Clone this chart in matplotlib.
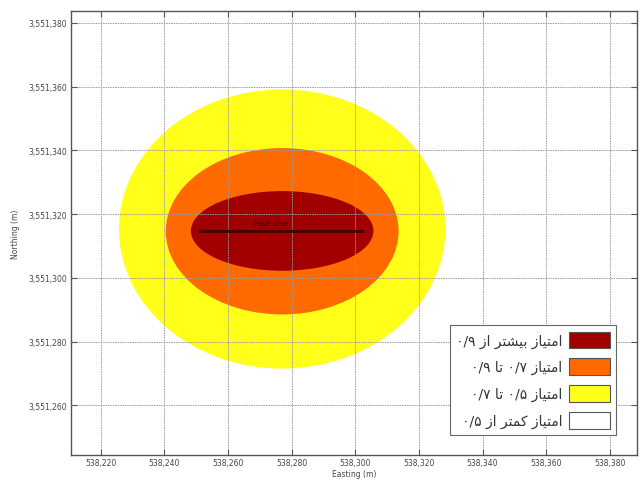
import matplotlib
matplotlib.use("Agg")
import matplotlib.pyplot as plt
from matplotlib.patches import Ellipse, Patch
from matplotlib.ticker import FuncFormatter

# zones drawn from the outside in (center, half axes in metres)
zone_colors = ["#ffff1a", "#ff6a00", "#a00000"]
zone_cx = [538277, 538277, 538277]
zone_cy = [3551315.3, 3551314.6, 3551314.7]
zone_rx = [51.3, 36.6, 28.7]
zone_ry = [43.8, 26.1, 12.5]

# the line through the centre
line_x = [538251.2, 538302.0]
line_y = [3551314.7, 3551314.7]
line_label = "Fault Line"

legend_labels = [
    "امتیاز بیشتر از ۰/۹",
    "امتیاز ۰/۷ تا ۰/۹",
    "امتیاز ۰/۵ تا ۰/۷",
    "امتیاز کمتر از ۰/۵",
]
legend_colors = ["#a00000", "#ff6a00", "#ffff1a", "#ffffff"]

x_ticks = [538220, 538240, 538260, 538280, 538300, 538320, 538340, 538360, 538380]
y_ticks = [3551260, 3551280, 3551300, 3551320, 3551340, 3551360, 3551380]

# minimal Persian shaping: isolated, final, initial, medial
FORMS = {
    "ا": ("\uFE8D", "\uFE8E", None, None),
    "ب": ("\uFE8F", "\uFE90", "\uFE91", "\uFE92"),
    "ت": ("\uFE95", "\uFE96", "\uFE97", "\uFE98"),
    "ر": ("\uFEAD", "\uFEAE", None, None),
    "ز": ("\uFEAF", "\uFEB0", None, None),
    "ش": ("\uFEB5", "\uFEB6", "\uFEB7", "\uFEB8"),
    "م": ("\uFEE1", "\uFEE2", "\uFEE3", "\uFEE4"),
    "ی": ("\uFEEF", "\uFEF0", "\uFEF3", "\uFEF4"),
    "ک": ("\uFED9", "\uFEDA", "\uFEDB", "\uFEDC"),
}


def shape_word(w):
    out = []
    for i, c in enumerate(w):
        if c not in FORMS:
            out.append(c)
            continue
        prev = w[i - 1] if i > 0 else None
        nxt = w[i + 1] if i < len(w) - 1 else None
        join_prev = prev in FORMS and FORMS[prev][2] is not None
        join_next = nxt in FORMS and FORMS[c][2] is not None
        if join_prev and join_next:
            out.append(FORMS[c][3])
        elif join_prev:
            out.append(FORMS[c][1])
        elif join_next:
            out.append(FORMS[c][2])
        else:
            out.append(FORMS[c][0])
    if any(c in FORMS for c in w):
        return "".join(out)[::-1]
    return "".join(out)


def rtl(text):
    return " ".join(shape_word(w) for w in text.split(" ")[::-1])


plt.rcParams["font.family"] = ["DejaVu Sans"]

fig = plt.figure(figsize=(6.42, 4.81), dpi=100)
ax = fig.add_axes([0.110, 0.052, 0.882, 0.923])

for c, cx, cy, rx, ry in zip(zone_colors, zone_cx, zone_cy, zone_rx, zone_ry):
    ax.add_patch(Ellipse((cx, cy), 2 * rx, 2 * ry, facecolor=c, edgecolor="none", zorder=1))

ax.plot(line_x, line_y, color="#4a0000", lw=2.2, zorder=3)
ax.text((line_x[0] + line_x[1]) / 2 - 3, line_y[0] + 1.5, line_label,
        fontsize=5, color="#3a0000", ha="center", va="bottom", zorder=3)

ax.set_xlim(538210.5, 538388.5)
ax.set_ylim(3551244.4, 3551383.7)
ax.set_xticks(x_ticks)
ax.set_yticks(y_ticks)
fmt = FuncFormatter(lambda v, p: f"{int(v):,}")
ax.xaxis.set_major_formatter(fmt)
ax.yaxis.set_major_formatter(fmt)
ax.tick_params(direction="in", top=True, right=True, labelsize=5.5,
               labelcolor="#444444", length=4, width=0.8, color="#555555", pad=2.5)
ax.grid(True, color="#9a9a9a", linestyle=(0, (1.5, 1)), linewidth=0.7)
ax.set_axisbelow(False)
for s in ax.spines.values():
    s.set_color("#555555")
    s.set_linewidth(1.0)

ax.set_xlabel("Easting (m)", fontsize=5.5, color="#444444", labelpad=1)
ax.set_ylabel("Northing (m)", fontsize=5.5, color="#444444", labelpad=6)

handles = [Patch(facecolor=c, edgecolor="#555555", linewidth=0.8) for c in legend_colors]
leg = ax.legend(handles, [rtl(t) for t in legend_labels], loc="lower right",
                bbox_to_anchor=(0.963, 0.045), borderaxespad=0, markerfirst=False,
                fontsize=10, handlelength=2.9, handleheight=1.45, labelspacing=0.75,
                handletextpad=0.5, fancybox=False, framealpha=1, edgecolor="#666666",
                borderpad=0.45)
leg.get_frame().set_linewidth(0.8)
for t in leg.get_texts():
    t.set_color("#333333")

fig.savefig("out.png", dpi=100)
